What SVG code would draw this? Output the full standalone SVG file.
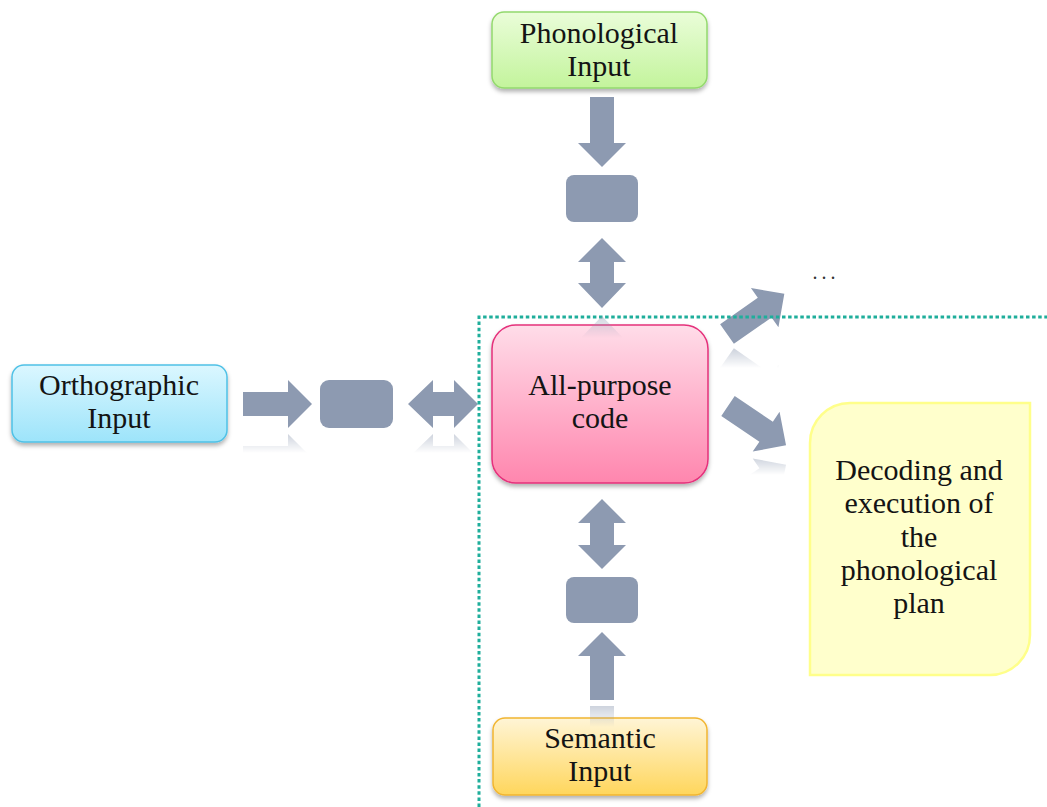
<svg xmlns="http://www.w3.org/2000/svg" xmlns:xlink="http://www.w3.org/1999/xlink" width="1047" height="807" viewBox="0 0 1047 807">
  <style>
    .lbl { font-family: "Liberation Serif", "Times New Roman", serif; font-size: 30px; fill: #141414; text-anchor: middle; }
    .arrow { fill: #8d9ab1; }
    .hub { fill: #8d9ab1; }
    .frame { fill: none; stroke: #1fae9b; stroke-width: 3; stroke-dasharray: 3.5 2.6; }
  </style>
  <defs>
    <linearGradient id="gGreen" x1="0" y1="0" x2="0" y2="1">
      <stop offset="0" stop-color="#eafdd9"/>
      <stop offset="1" stop-color="#c3f49c"/>
    </linearGradient>
    <linearGradient id="gBlue" x1="0" y1="0" x2="0" y2="1">
      <stop offset="0" stop-color="#dbf7ff"/>
      <stop offset="1" stop-color="#9de4fa"/>
    </linearGradient>
    <linearGradient id="gPink" x1="0" y1="0" x2="0" y2="1">
      <stop offset="0" stop-color="#ffdde9"/>
      <stop offset="1" stop-color="#ff86ae"/>
    </linearGradient>
    <linearGradient id="gGold" x1="0" y1="0" x2="0" y2="1">
      <stop offset="0" stop-color="#fff5d6"/>
      <stop offset="1" stop-color="#ffd65c"/>
    </linearGradient>
    <linearGradient id="fade" x1="0" y1="0" x2="0" y2="1">
      <stop offset="0" stop-color="#fff" stop-opacity="0.5"/>
      <stop offset="1" stop-color="#fff" stop-opacity="0"/>
    </linearGradient>
    <filter id="shadow" x="-10%" y="-10%" width="120%" height="130%">
      <feDropShadow dx="0" dy="3" stdDeviation="2" flood-color="#000" flood-opacity="0.3"/>
    </filter>
    <!-- arrow shapes in local coordinates -->
    <path id="fwd" d="M0 -12 H46 V-24 L70 0 L46 24 V12 H0 Z"/>
    <path id="arrOrth" d="M243 392 H288 V380 L312 404 L288 428 V416 H243 Z"/>
    <path id="arrOrthDbl" d="M408 404 L433 380 V392 H454 V380 L478 404 L454 428 V416 H433 V428 Z"/>
    <path id="arrPhonDbl" d="M602 238 L626 262 H614 V283 H626 L602 308 L578 283 H590 V262 H578 Z"/>
    <path id="arrSemUp" d="M602 632 L626 656 H614 V700 H590 V656 H578 Z"/>
    <mask id="mOrth" maskUnits="userSpaceOnUse" x="0" y="0" width="1047" height="807">
      <rect x="230" y="431" width="260" height="22" fill="url(#fade)"/>
    </mask>
    <mask id="mDiagUp" maskUnits="userSpaceOnUse" x="0" y="0" width="1047" height="807">
      <rect x="700" y="346" width="110" height="22" fill="url(#fade)"/>
    </mask>
    <mask id="mDiagDown" maskUnits="userSpaceOnUse" x="0" y="0" width="1047" height="807">
      <rect x="700" y="455" width="110" height="20" fill="url(#fade)"/>
    </mask>
    <mask id="mPhon" maskUnits="userSpaceOnUse" x="0" y="0" width="1047" height="807">
      <rect x="560" y="312" width="90" height="26" fill="url(#fade)"/>
    </mask>
    <mask id="mSem" maskUnits="userSpaceOnUse" x="0" y="0" width="1047" height="807">
      <rect x="560" y="703" width="90" height="24" fill="url(#fade)"/>
    </mask>
  </defs>

  <rect width="1047" height="807" fill="#fff"/>

  <!-- connectors: block arrows and relay boxes -->
  <g id="connectors">
    <path class="arrow" d="M590 97 H614 V143 H626 L602 167 L578 143 H590 Z"/>
    <rect class="hub" x="566" y="175" width="72" height="47" rx="8"/>
    <use class="arrow" href="#arrPhonDbl"/>

    <use class="arrow" href="#arrOrth"/>
    <rect class="hub" x="320" y="380" width="73" height="48" rx="9"/>
    <use class="arrow" href="#arrOrthDbl"/>

    <use class="arrow" href="#fwd" transform="translate(727 334) rotate(-35)"/>
    <use class="arrow" href="#fwd" transform="translate(728 406) rotate(34)"/>

    <path class="arrow" d="M602 499 L626 523 H614 V545 H626 L602 569 L578 545 H590 V523 H578 Z"/>
    <rect class="hub" x="566" y="577" width="72" height="46" rx="8"/>
    <use class="arrow" href="#arrSemUp"/>

    <!-- mirrored reflections -->
    <g mask="url(#mOrth)">
      <use class="arrow" href="#arrOrth" transform="matrix(1 0 0 -1 0 862)"/>
      <use class="arrow" href="#arrOrthDbl" transform="matrix(1 0 0 -1 0 862)"/>
    </g>
    <g mask="url(#mDiagUp)">
      <g transform="matrix(1 0 0 -1 0 692)">
        <use class="arrow" href="#fwd" transform="translate(727 334) rotate(-35)"/>
      </g>
    </g>
    <g mask="url(#mDiagDown)">
      <g transform="matrix(1 0 0 -1 0 910)">
        <use class="arrow" href="#fwd" transform="translate(728 406) rotate(34)"/>
      </g>
    </g>
  </g>

  <g id="frame">
    <path class="frame" d="M479 807 V317 H1047"/>
  </g>

  <g id="phonological-input">
    <rect x="492" y="12" width="215" height="76" rx="12" fill="url(#gGreen)" stroke="#93d96d" stroke-width="1.5" filter="url(#shadow)"/>
    <text class="lbl"><tspan x="599" y="43">Phonological</tspan><tspan x="599" y="76">Input</tspan></text>
  </g>

  <g id="orthographic-input">
    <rect x="12" y="365" width="215" height="77" rx="12" fill="url(#gBlue)" stroke="#4fc1e6" stroke-width="1.5" filter="url(#shadow)"/>
    <text class="lbl"><tspan x="119" y="395">Orthographic</tspan><tspan x="119" y="428">Input</tspan></text>
  </g>

  <g id="all-purpose-code">
    <rect x="492" y="325" width="216" height="158" rx="24" fill="url(#gPink)" stroke="#e5307b" stroke-width="1.5" filter="url(#shadow)"/>
    <text class="lbl"><tspan x="600" y="395">All-purpose</tspan><tspan x="600" y="428">code</tspan></text>
  </g>

  <g id="semantic-input">
    <rect x="493" y="718" width="214" height="77" rx="12" fill="url(#gGold)" stroke="#f1b530" stroke-width="1.5" filter="url(#shadow)"/>
    <text class="lbl"><tspan x="600" y="748">Semantic</tspan><tspan x="600" y="781">Input</tspan></text>
  </g>

  <g id="decoding">
    <path d="M850 403 H1030 V635 A40 40 0 0 1 990 675 H810 V443 A40 40 0 0 1 850 403 Z" fill="#ffffcc" stroke="#ffff8a" stroke-width="2.5"/>
    <text class="lbl"><tspan x="919" y="480">Decoding and</tspan><tspan x="919" y="513">execution of</tspan><tspan x="919" y="547">the</tspan><tspan x="919" y="580">phonological</tspan><tspan x="919" y="613">plan</tspan></text>
  </g>

  <g id="more">
    <text x="826" y="279" font-family="Liberation Serif, serif" font-size="20" fill="#333" text-anchor="middle" letter-spacing="4">...</text>
  </g>

  <!-- reflections that fall across the boxes -->
  <g mask="url(#mPhon)">
    <use class="arrow" href="#arrPhonDbl" transform="matrix(1 0 0 -1 0 624)"/>
  </g>
  <g mask="url(#mSem)">
    <use class="arrow" href="#arrSemUp" transform="matrix(1 0 0 -1 0 1406)"/>
  </g>
</svg>
